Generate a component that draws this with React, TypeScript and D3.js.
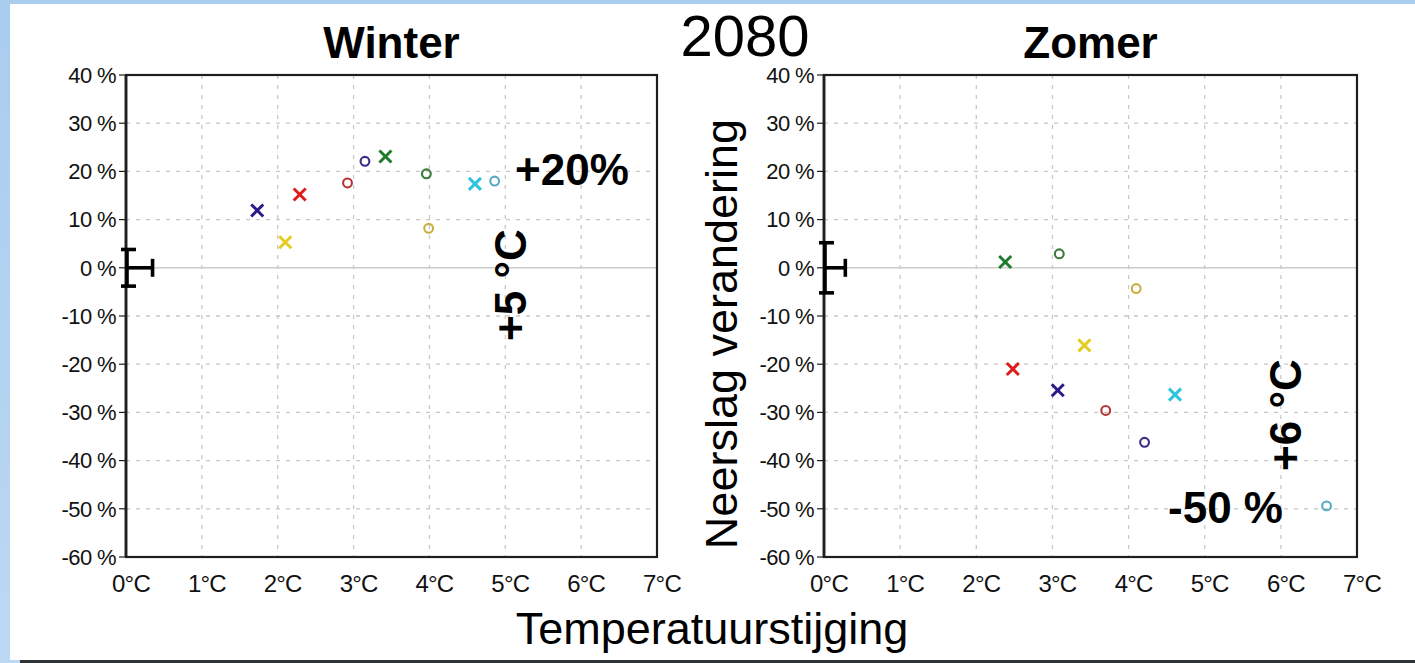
import React, { useEffect } from 'react';
import * as d3 from 'd3';

// temperature ticks (°C) and precipitation ticks (%)
const tempTicks = [0, 1, 2, 3, 4, 5, 6, 7];
const precipTicks = [40, 30, 20, 10, 0, -10, -20, -30, -40, -50, -60];

// climate models: marker + colour
const modelMarker = ['x', 'o', 'x', 'o', 'x', 'o', 'x', 'o', 'x', 'o'];
const modelColor = ['#2a1a8c', '#3a2c8a', '#dd1c1c', '#b83434', '#1f7a2a', '#3a7a3a', '#e6cc22', '#c8b044', '#2ec4dc', '#58aac4'];

// winter (left panel)
const winterTemp = [1.73, 3.15, 2.29, 2.92, 3.42, 3.96, 2.1, 3.99, 4.6, 4.86];
const winterPrecip = [11.9, 22.1, 15.2, 17.6, 23.1, 19.5, 5.3, 8.2, 17.4, 18.0];

// summer (right panel)
const summerTemp = [3.07, 4.21, 2.48, 3.7, 2.38, 3.09, 3.42, 4.1, 4.61, 6.6];
const summerPrecip = [-25.4, -36.2, -21.0, -29.6, 1.2, 2.9, -16.1, -4.3, -26.3, -49.4];

const fontSans = '"Liberation Sans", Arial, Helvetica, sans-serif';

type PanelProps = {
  title: string;
  left: number;
  right: number;
  temps: number[];
  precips: number[];
  errPrecip: number;
  errTemp: number;
};

const top = 75;
const bottom = 557;

const Panel = ({ title, left, right, temps, precips, errPrecip, errTemp }: PanelProps) => {
  const x = d3.scaleLinear().domain([0, 7]).range([left, right]);
  const y = d3.scaleLinear().domain([-60, 40]).range([bottom, top]);

  return (
    <g>
      <text x={(left + right) / 2} y={58} textAnchor="middle" fontFamily={fontSans} fontWeight="bold" fontSize={44}>
        {title}
      </text>

      {/* grid */}
      {precipTicks.filter(t => t !== 0 && t !== 40 && t !== -60).map(t => (
        <line key={'h' + t} x1={left} x2={right} y1={y(t)} y2={y(t)} stroke="#c8c8c8" strokeWidth={1.3} strokeDasharray="4,6" />
      ))}
      {tempTicks.filter(t => t !== 0 && t !== 7).map(t => (
        <line key={'v' + t} x1={x(t)} x2={x(t)} y1={top} y2={bottom} stroke="#c8c8c8" strokeWidth={1.3} strokeDasharray="4,6" />
      ))}
      <line x1={left} x2={right} y1={y(0)} y2={y(0)} stroke="#cccccc" strokeWidth={1.6} />

      {/* frame */}
      <rect x={left} y={top} width={right - left} height={bottom - top} fill="none" stroke="#1e1e1e" strokeWidth={2.2} />
      <line x1={left} x2={left} y1={top} y2={bottom} stroke="#1e1e1e" strokeWidth={2.8} />

      {/* y ticks */}
      {precipTicks.map(t => (
        <g key={'yt' + t}>
          <line x1={left - 7} x2={left} y1={y(t)} y2={y(t)} stroke="#1e1e1e" strokeWidth={1.2} />
          <text x={left - 10} y={y(t)} dy="0.35em" textAnchor="end" fontFamily={fontSans} fontSize={22} letterSpacing={-0.6} fill="#111">
            {t + ' %'}
          </text>
        </g>
      ))}

      {/* x ticks */}
      {tempTicks.map(t => (
        <text key={'xt' + t} x={x(t) + 5} y={592} textAnchor="middle" fontFamily={fontSans} fontSize={24} letterSpacing={-0.8} fill="#111">
          {t + '°C'}
        </text>
      ))}

      {/* natural variability error bar */}
      <g stroke="#000" strokeWidth={3.6} fill="none">
        <line x1={x(0) + 1} x2={x(0) + 1} y1={y(errPrecip)} y2={y(-errPrecip)} />
        <line x1={x(0) - 5} x2={x(0) + 10} y1={y(errPrecip)} y2={y(errPrecip)} />
        <line x1={x(0) - 5} x2={x(0) + 10} y1={y(-errPrecip)} y2={y(-errPrecip)} />
        <line x1={x(0)} x2={x(errTemp)} y1={y(0)} y2={y(0)} />
        <line x1={x(errTemp)} x2={x(errTemp)} y1={y(0) - 9} y2={y(0) + 9} />
      </g>

      {/* model points */}
      {temps.map((t, i) => {
        const cx = x(t);
        const cy = y(precips[i]);
        const c = modelColor[i];
        if (modelMarker[i] === 'x') {
          const s = 6;
          return (
            <g key={'p' + i} stroke={c} strokeWidth={3}>
              <line x1={cx - s} x2={cx + s} y1={cy - s} y2={cy + s} />
              <line x1={cx - s} x2={cx + s} y1={cy + s} y2={cy - s} />
            </g>
          );
        }
        return <circle key={'p' + i} cx={cx} cy={cy} r={4.4} fill="none" stroke={c} strokeWidth={2.1} />;
      })}
    </g>
  );
};

export default function App() {
  useEffect(() => {
    document.body.style.margin = '0';
  }, []);

  return (
    <svg width={1415} height={663} style={{ display: 'block' }}>
      <defs>
        <linearGradient id="bg" x1="0" y1="0" x2="0" y2="1">
          <stop offset="0" stopColor="#a9cdef" />
          <stop offset="1" stopColor="#bcd8f4" />
        </linearGradient>
      </defs>
      <rect x={0} y={0} width={1415} height={663} fill="url(#bg)" />
      <rect x={10} y={4} width={1405} height={656} fill="#fff" />
      <rect x={20} y={660} width={1395} height={3} fill="#2e3338" />

      <text x={745} y={56} textAnchor="middle" fontFamily={fontSans} fontSize={58} fill="#000">
        2080
      </text>

      <Panel title="Winter" left={126} right={657} temps={winterTemp} precips={winterPrecip} errPrecip={3.8} errTemp={0.35} />
      <Panel title="Zomer" left={824} right={1357} temps={summerTemp} precips={summerPrecip} errPrecip={5.2} errTemp={0.28} />

      <text x={712} y={644} textAnchor="middle" fontFamily={fontSans} fontSize={45} fill="#000">
        Temperatuurstijging
      </text>
      <text transform="translate(737,334) rotate(-90)" textAnchor="middle" fontFamily={fontSans} fontSize={45} fill="#000">
        Neerslag verandering
      </text>

      {/* annotations */}
      <text x={515} y={185} fontFamily={fontSans} fontWeight="bold" fontSize={44}>+20%</text>
      <text transform="translate(526,285) rotate(-90)" textAnchor="middle" fontFamily={fontSans} fontWeight="bold" fontSize={44}>+5 °C</text>
      <text transform="translate(1301,415) rotate(-90)" textAnchor="middle" fontFamily={fontSans} fontWeight="bold" fontSize={44}>+6 °C</text>
      <text x={1283} y={523} textAnchor="end" fontFamily={fontSans} fontWeight="bold" fontSize={44}>-50 %</text>
    </svg>
  );
}
